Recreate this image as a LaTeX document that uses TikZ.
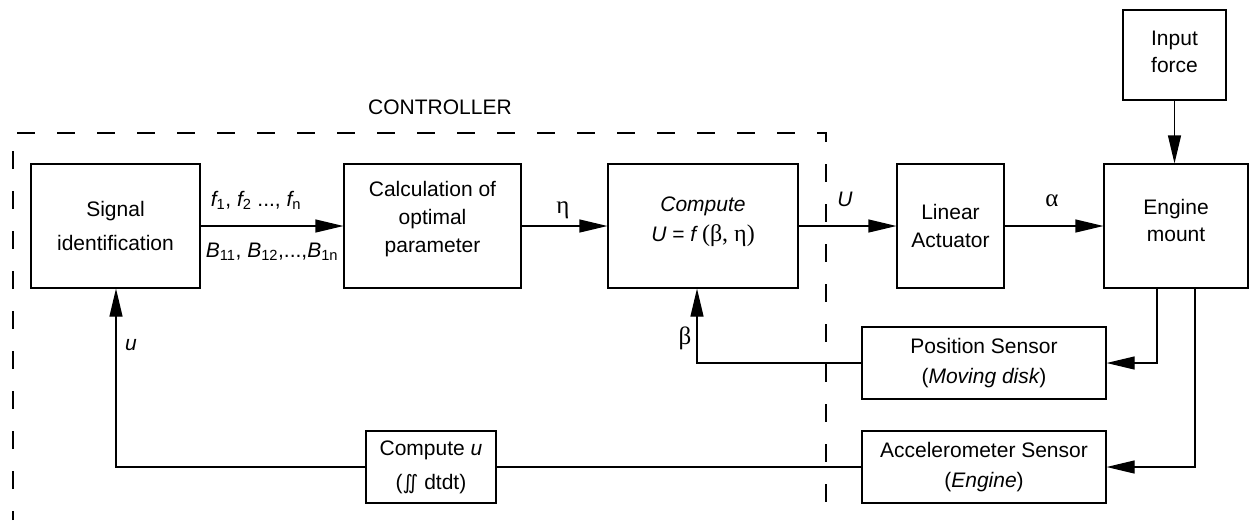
\documentclass[tikz,border=0pt]{standalone}
\usepackage{fontspec}
\setmainfont{Liberation Sans}
\newfontfamily\grk{Liberation Serif}
\newfontfamily\djv{DejaVu Sans}
\usetikzlibrary{arrows.meta}
\newcommand{\gk}[1]{{\grk\fontsize{25}{30}\selectfont #1}}
\begin{document}
\begin{tikzpicture}[x=1pt,y=-1pt,
  font=\fontsize{21}{30}\selectfont,
  blk/.style={draw, line width=1.2pt, align=center, inner sep=0pt},
  conn/.style={line width=1.2pt, -{Triangle[length=28pt,width=13pt]}},
  plain/.style={line width=1.2pt},
  lbl/.style={inner sep=0pt, align=center}]
\useasboundingbox (0,0) rectangle (1250,520);
% controller dashed frame
\draw[line width=1.2pt, dash pattern=on 18pt off 22pt, dash phase=9pt]
  (13,520) -- (13,133) -- (826,133) -- (826,520);
\node[lbl] (ctl) at (440,107) {CONTROLLER};
% blocks
\node[blk, minimum width=169pt, minimum height=124pt, font=\fontsize{21}{34}\selectfont] (sig) at (115.5,226) {Signal\\identification};
\node[blk, minimum width=177pt, minimum height=124pt, font=\fontsize{21}{28}\selectfont] (calc) at (432.5,226) {Calculation of\\optimal\\parameter\\[-10pt]\mbox{}};
\node[blk, minimum width=190pt, minimum height=124pt, font=\fontsize{21}{30}\selectfont] (comp) at (703,226) {\itshape Compute\\{\itshape U} = {\itshape f} {\grk\fontsize{24}{30}\selectfont (β, η)}\\[-17pt]\mbox{}};
\node[blk, minimum width=107pt, minimum height=124pt, font=\fontsize{21}{28}\selectfont] (lin) at (950.5,226) {Linear\\Actuator};
\node[blk, minimum width=144pt, minimum height=124pt, font=\fontsize{21}{27}\selectfont] (eng) at (1176,226) {Engine\\mount\\[-15pt]\mbox{}};
\node[blk, minimum width=103pt, minimum height=90pt, font=\fontsize{21}{27}\selectfont] (inp) at (1174.5,55) {Input\\force\\[-21pt]\mbox{}};
\node[blk, minimum width=244pt, minimum height=72pt] (pos) at (984,363) {Position Sensor\\({\itshape Moving disk})};
\node[blk, minimum width=244pt, minimum height=72pt] (acc) at (984,467) {Accelerometer Sensor\\({\itshape Engine})};
\node[blk, minimum width=130pt, minimum height=72pt, font=\fontsize{21}{34}\selectfont] (cu) at (431,467) {Compute {\itshape u}\\({\djv\fontsize{20}{20}\selectfont ∬} dtdt)};
% corner coordinates
\coordinate (e1) at (1157,363);
\coordinate (e2) at (1195,467);
\coordinate (b1) at (697,363);
\coordinate (u1) at (116,467);
% connectors
\draw[conn] (sig.east) -- (calc.west);
\draw[conn] (calc.east) -- (comp.west);
\draw[conn] (comp.east) -- (lin.west);
\draw[conn] (lin.east) -- (eng.west);
\draw[conn] (inp.south) -- (inp.south |- eng.north);
\draw[conn] (e1 |- eng.south) -- (e1) -- (pos.east);
\draw[conn] (e2 |- eng.south) -- (e2) -- (acc.east);
\draw[conn] (pos.west) -- (b1) -- (b1 |- comp.south);
\draw[plain] (acc.west) -- (cu.east);
\draw[conn] (cu.west) -- (u1) -- (u1 |- sig.south);
% labels
\node[lbl] (lf) at (256,200) {{\itshape f}\textsubscript{1}, {\itshape f}\textsubscript{2} ..., {\itshape f}\textsubscript{n}};
\node[lbl] (lb) at (272,252) {{\itshape B}\textsubscript{11}, {\itshape B}\textsubscript{12},...,{\itshape B}\textsubscript{1n}};
\node[lbl] (leta) at (563,210) {\gk{η}};
\node[lbl] (lU) at (845,199) {\itshape U};
\node[lbl] (lal) at (1052,201) {\gk{α}};
\node[lbl] (lbe) at (685,338) {\gk{β}};
\node[lbl] (lu) at (131,345) {\itshape u};
\end{tikzpicture}
\end{document}
